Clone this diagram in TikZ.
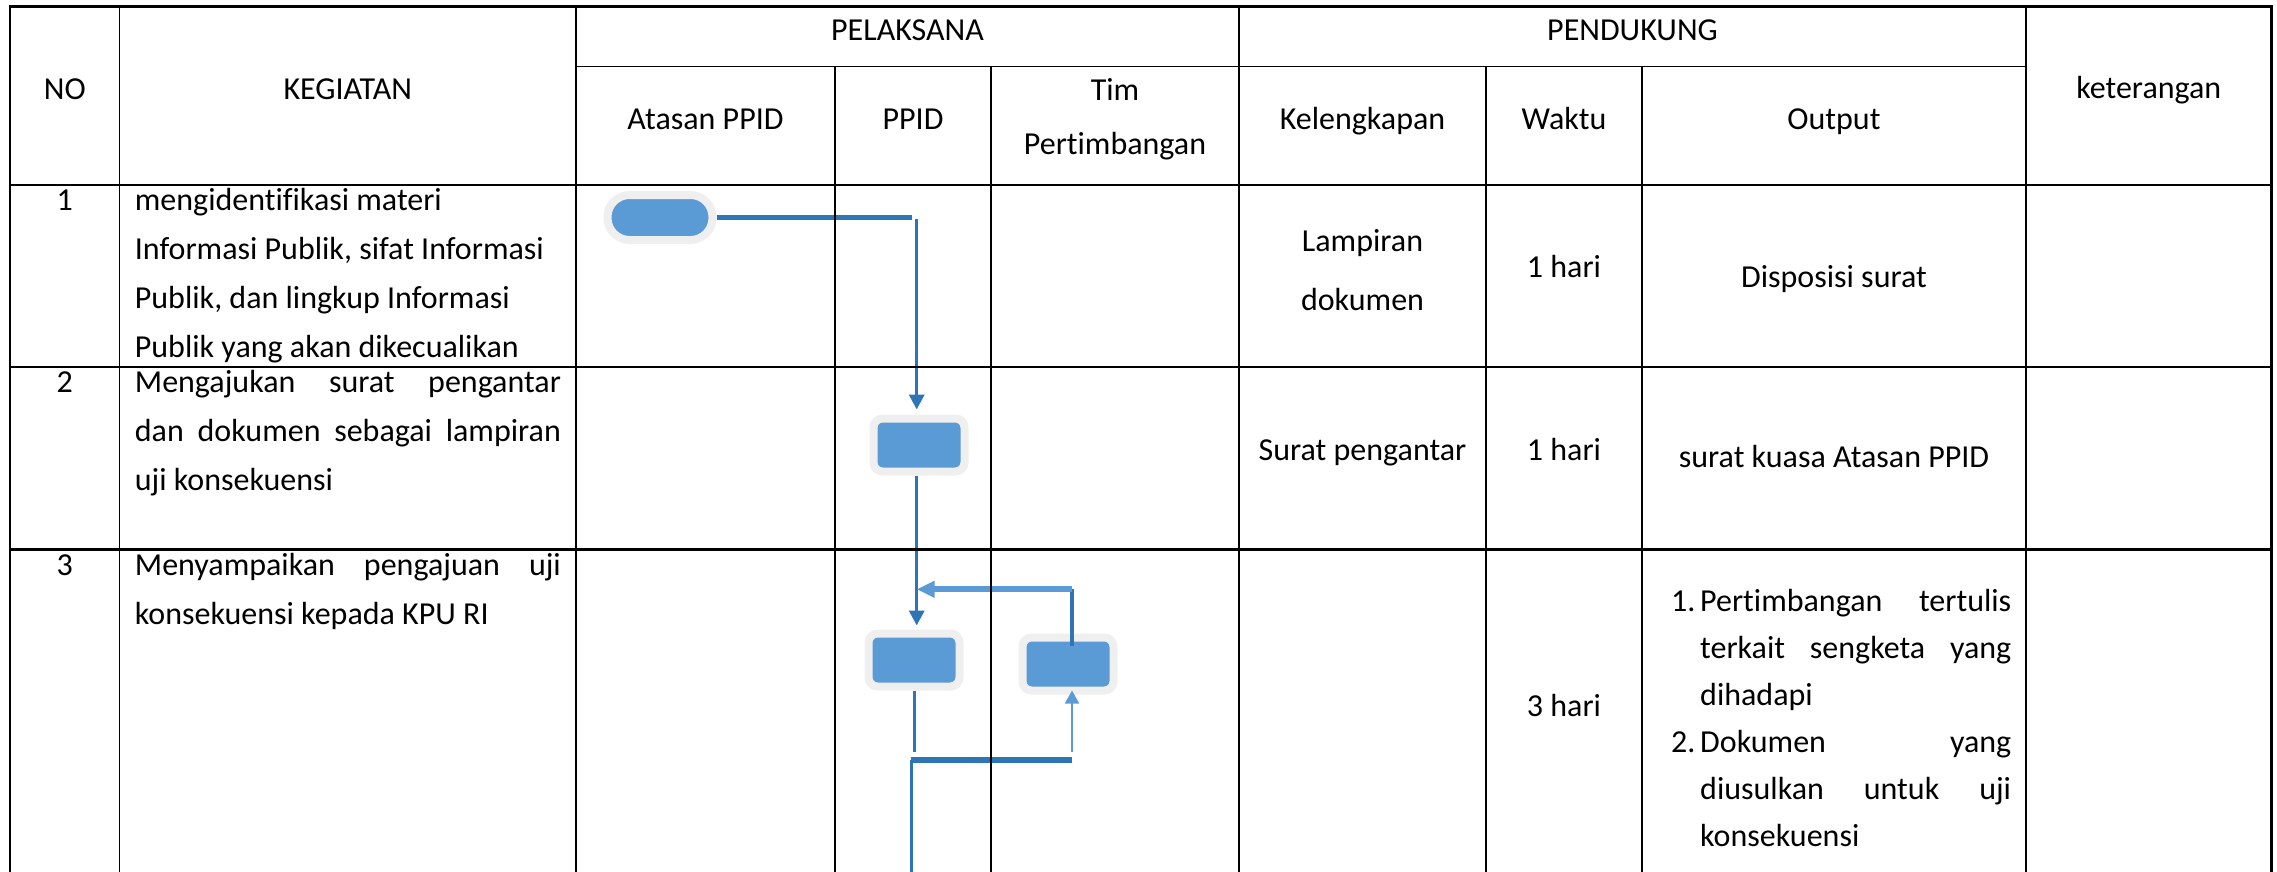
\documentclass[tikz,border=0pt]{standalone}
\usepackage{fontspec}
\setmainfont{Carlito}[Ligatures=NoCommon]
\usetikzlibrary{arrows.meta}
\definecolor{boxblue}{HTML}{5B9BD5}
\definecolor{lineblue}{HTML}{2E75B6}
\definecolor{halo}{HTML}{EFEFEF}
\newcommand\tblfont{\fontsize{32pt}{49pt}\selectfont}
\begin{document}
\begin{tikzpicture}[x=1pt,y=-1pt,
  hd/.style={anchor=base,inner sep=0,font=\tblfont},
  lt/.style={anchor=base west,inner sep=0,font=\tblfont},
  thickrule/.style={line width=2.4pt,black},
  thinrule/.style={line width=1.6pt,black},
  actbox/.style={rectangle,rounded corners=9pt,fill=boxblue,draw=halo,line width=8pt,inner sep=0,minimum width=91pt,minimum height=53pt},
  termbox/.style={rectangle,rounded corners=22pt,fill=boxblue,draw=halo,line width=8pt,inner sep=0,minimum width=105pt,minimum height=45pt},
  flowdark/.style={lineblue,line width=3.5pt},
  flowbar/.style={lineblue,line width=5pt},
  arrowdark/.style={-{Triangle[length=15pt,width=15pt]}},
]
\useasboundingbox (0,0) rectangle (2277,872);

% ---------- flowchart shapes ----------
\node[termbox] (t1) at (660,217.5) {};
\node[actbox] (b2) at (919,445) {};
\node[actbox] (b3) at (914,660) {};
\node[actbox] (b4) at (1068,664) {};

% ---------- connector coordinates ----------
\coordinate (c1) at (911.7,218.3);
\coordinate (c2) at (916.7,219);
\coordinate (r1) at (1072,589.3);
\coordinate (p3end) at (914.4,752.3);
\coordinate (barL) at (911.2,760);
\coordinate (barR) at (1072,760);
\coordinate (upst) at (1072,752.3);
\coordinate (downend) at (911.2,872);

% ---------- connectors ----------
\draw[lineblue,line width=4.7pt] (t1.east) -- (t1.east -| c1);
\draw[flowdark,arrowdark,shorten >=5pt] (c2) -- (c2 |- b2.north);
\draw[flowdark,arrowdark,shorten >=4pt] (b2.south -| c2) -- (b3.north -| c2);
\draw[flowdark] ([yshift=-12pt]b4.north -| r1) -- (r1);
\draw[boxblue,line width=5.7pt,-{Triangle[length=18pt,width=16pt]}] (r1) -- (r1 -| c2);
\draw[lineblue,line width=3pt] (b3.south -| p3end) -- (p3end);
\draw[flowbar,line width=5.7pt] (barL) -- (barR);
\draw[boxblue,line width=1.7pt,-{Triangle[length=13pt,width=14pt]}] (upst) -- ([yshift=4pt]b4.south -| upst);
\draw[lineblue,line width=3pt] (barL) -- (downend);

% ---------- table grid ----------
\draw[thickrule] (10,872) -- (10,6.7) -- (2271.5,6.7) -- (2271.5,872);
\draw[thickrule] (10,185) -- (2271.5,185);
\draw[thickrule] (10,366.7) -- (2271.5,366.7);
\draw[thickrule] (10,549.3) -- (2271.5,549.3);
\draw[thinrule] (576,66.7) -- (2026,66.7);
\draw[thinrule] (119.5,6.7) -- (119.5,872);
\draw[thinrule] (576,6.7) -- (576,872);
\draw[thinrule] (835,66.7) -- (835,872);
\draw[thinrule] (991,66.7) -- (991,872);
\draw[thinrule] (1239,6.7) -- (1239,872);
\draw[thinrule] (1486,66.7) -- (1486,872);
\draw[thinrule] (1642,66.7) -- (1642,872);
\draw[thinrule] (2026,6.7) -- (2026,872);

% ---------- header texts ----------
\node[hd] (hNO) at (64.75,99.5) {NO};
\node[hd] (hKEG) at (347.75,99.5) {KEGIATAN};
\node[hd] (hPEL) at (907.5,41) {PELAKSANA};
\node[hd] (hPEN) at (1632.5,41) {PENDUKUNG};
\node[hd] (hKET) at (2148.75,99) {keterangan};
\node[hd] (hAT) at (705.5,130) {Atasan PPID};
\node[hd] (hPP) at (913,130) {PPID};
\node[hd] (hTimA) at (1115,101) {Tim};
\node[hd] (hTimB) at (1115,154) {Pertimbangan};
\node[hd] (hKel) at (1362.5,130) {Kelengkapan};
\node[hd] (hWak) at (1564,130) {Waktu};
\node[hd] (hOut) at (1834,130) {Output};

% ---------- row 1 ----------
\node[hd] (n1) at (64.75,210) {1};
\node[lt] (g1a) at (134.7,210) {mengidentifikasi materi};
\node[lt] (g1b) at (134.7,259) {Informasi Publik, sifat Informasi};
\node[lt] (g1c) at (134.7,308) {Publik, dan lingkup Informasi};
\node[lt] (g1d) at (134.7,357) {Publik yang akan dikecualikan};
\node[hd] (kl1a) at (1362.5,251) {Lampiran};
\node[hd] (kl1b) at (1362.5,310) {dokumen};
\node[hd] (w1) at (1564,277) {1 hari};
\node[hd] (o1) at (1834,287) {Disposisi surat};

% ---------- row 2 ----------
\node[hd] (n2) at (64.75,392) {2};
\node[lt] (g2a) at (134.7,392) {\makebox[426pt][s]{Mengajukan surat pengantar}};
\node[lt] (g2b) at (134.7,441) {\makebox[426pt][s]{dan dokumen sebagai lampiran}};
\node[lt] (g2c) at (134.7,490) {uji konsekuensi};
\node[hd] (kl2) at (1362.5,460) {Surat pengantar};
\node[hd] (w2) at (1564,460) {1 hari};
\node[hd] (o2) at (1834,467) {surat kuasa Atasan PPID};

% ---------- row 3 ----------
\node[hd] (n3) at (64.75,575) {3};
\node[lt] (g3a) at (134.7,575) {\makebox[426pt][s]{Menyampaikan pengajuan uji}};
\node[lt] (g3b) at (134.7,624) {konsekuensi kepada KPU RI};
\node[hd] (w3) at (1564,716) {3 hari};
\node[lt] (o3n1) at (1671,611) {1.};
\node[lt] (o3a) at (1700,611) {\makebox[311pt][s]{Pertimbangan tertulis}};
\node[lt] (o3b) at (1700,658) {\makebox[311pt][s]{terkait sengketa yang}};
\node[lt] (o3c) at (1700,705) {dihadapi};
\node[lt] (o3n2) at (1671,752) {2.};
\node[lt] (o3d) at (1700,752) {\makebox[311pt][s]{Dokumen yang}};
\node[lt] (o3e) at (1700,799) {\makebox[311pt][s]{diusulkan untuk uji}};
\node[lt] (o3f) at (1700,846) {konsekuensi};
\end{tikzpicture}
\end{document}
